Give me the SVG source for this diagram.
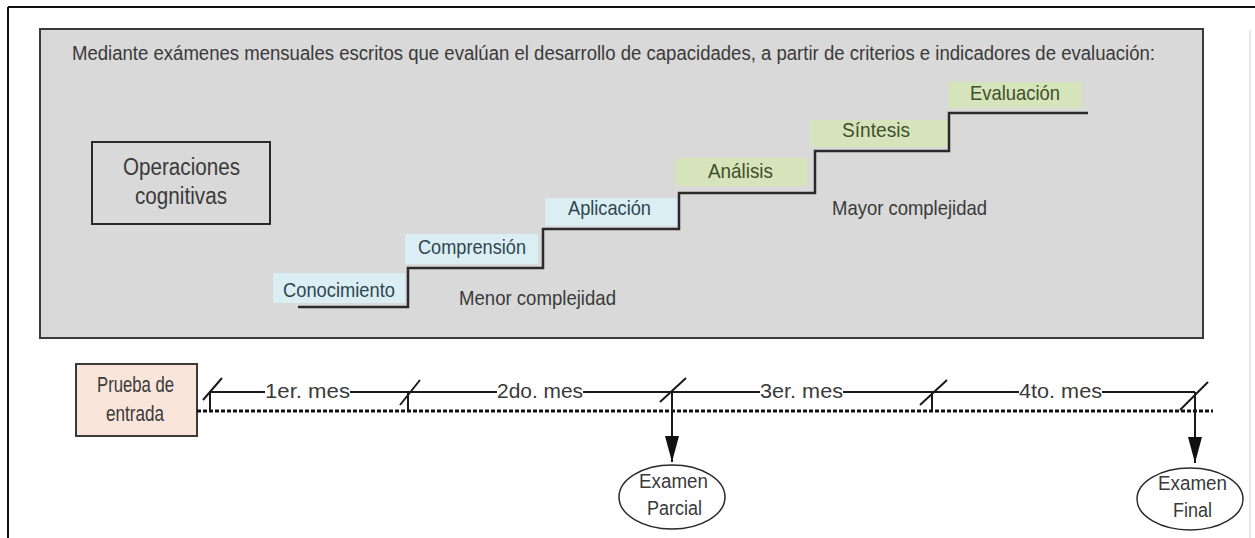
<svg xmlns="http://www.w3.org/2000/svg" width="1255" height="538" viewBox="0 0 1255 538">
<style>
text{font-family:"Liberation Sans",Arial,sans-serif;fill:#3a3a3a}
.t20{font-size:21px}
.t19{font-size:20px}
.t22{font-size:23px}
.tp{font-size:22px}
.cy{fill:#daeef3}
.gr{fill:#d6e4bc}
.cyt{fill:#2e4651}
.grt{fill:#3f4f2a}
.ln{stroke:#1a1a1a;stroke-width:2;fill:none}
</style>
<defs>
<marker id="arrow" viewBox="0 0 26 14" refX="26" refY="7" markerWidth="26" markerHeight="14" markerUnits="userSpaceOnUse" orient="auto">
<path d="M0,0 L26,7 L0,14 z" fill="#111"/>
</marker>
</defs>
<rect x="0" y="0" width="1255" height="538" fill="#fff"/>
<g id="frame">
<line x1="8" y1="7" x2="1255" y2="7" stroke="#111" stroke-width="2"/>
<line x1="8" y1="7" x2="8" y2="538" stroke="#111" stroke-width="2"/>
<line x1="1250" y1="30" x2="1250" y2="538" stroke="#e2e2e2" stroke-width="1.5"/>
</g>
<g id="panel">
<rect x="40" y="29" width="1163" height="309" fill="#d9d9d9" stroke="#3a3a3a" stroke-width="2"/>
<text class="t19" x="72" y="60" textLength="1083" lengthAdjust="spacingAndGlyphs">Mediante exámenes mensuales escritos que evalúan el desarrollo de capacidades, a partir de criterios e indicadores de evaluación:</text>
</g>
<g id="operaciones">
<rect x="92" y="142" width="178" height="82" fill="none" stroke="#2a2a2a" stroke-width="2"/>
<text class="t22" x="123" y="175" textLength="117" lengthAdjust="spacingAndGlyphs">Operaciones</text>
<text class="t22" x="135" y="204" textLength="92" lengthAdjust="spacingAndGlyphs">cognitivas</text>
</g>
<g id="conocimiento">
<rect class="cy" x="273" y="273" width="132" height="30"/>
<text class="t20 cyt" x="283" y="297" textLength="112" lengthAdjust="spacingAndGlyphs">Conocimiento</text>
</g>
<g id="comprension">
<rect class="cy" x="405" y="234" width="133" height="30"/>
<text class="t20 cyt" x="418" y="254" textLength="108" lengthAdjust="spacingAndGlyphs">Comprensión</text>
</g>
<g id="aplicacion">
<rect class="cy" x="545" y="198" width="132" height="28"/>
<text class="t20 cyt" x="568" y="215" textLength="83" lengthAdjust="spacingAndGlyphs">Aplicación</text>
</g>
<g id="analisis">
<rect class="gr" x="675" y="158" width="132" height="28"/>
<text class="t20 grt" x="708" y="178" textLength="65" lengthAdjust="spacingAndGlyphs">Análisis</text>
</g>
<g id="sintesis">
<rect class="gr" x="810" y="120" width="138" height="27"/>
<text class="t20 grt" x="842" y="137" textLength="68" lengthAdjust="spacingAndGlyphs">Síntesis</text>
</g>
<g id="evaluacion">
<rect class="gr" x="948" y="82" width="134" height="26"/>
<text class="t20 grt" x="970" y="100" textLength="90" lengthAdjust="spacingAndGlyphs">Evaluación</text>
</g>
<g id="complejidad">
<text class="t20" x="459" y="305" textLength="157" lengthAdjust="spacingAndGlyphs">Menor complejidad</text>
<text class="t20" x="832" y="215" textLength="155" lengthAdjust="spacingAndGlyphs">Mayor complejidad</text>
</g>
<g id="prueba">
<rect x="76" y="364" width="121" height="72" fill="#f9e5da" stroke="#3a3a3a" stroke-width="2"/>
<text class="tp" x="97" y="392" textLength="77" lengthAdjust="spacingAndGlyphs">Prueba de</text>
<text class="tp" x="106" y="421" textLength="58" lengthAdjust="spacingAndGlyphs">entrada</text>
</g>
<g id="parcial">
<ellipse cx="672" cy="497" rx="53" ry="32" fill="#fff" stroke="#2a2a2a" stroke-width="1.5"/>
<text class="t19" x="639" y="488" textLength="69" lengthAdjust="spacingAndGlyphs">Examen</text>
<text class="t19" x="647" y="515" textLength="55" lengthAdjust="spacingAndGlyphs">Parcial</text>
</g>
<g id="final">
<ellipse cx="1190" cy="499" rx="53" ry="31" fill="#fff" stroke="#2a2a2a" stroke-width="1.5"/>
<text class="t19" x="1158" y="490" textLength="69" lengthAdjust="spacingAndGlyphs">Examen</text>
<text class="t19" x="1173" y="517" textLength="39" lengthAdjust="spacingAndGlyphs">Final</text>
</g>
<g id="connectors">
<path d="M298,307 H408 V268 H543 V229 H679 V193 H815 V151 H949 V113 H1088" stroke="#2a2a2a" stroke-width="2.5" fill="none"/>
<line x1="197" y1="411" x2="1213" y2="411" stroke="#111" stroke-width="3" stroke-dasharray="4 2"/>
<path class="ln" d="M210,392 H265 M350,392 H497 M583,392 H760 M843,392 H1019 M1102,392 H1195"/>
<path class="ln" d="M210,392 V411 M203,400 L222,378 M408,392 V411 M400,405 L420,380 M660,402 L686,378 M932,392 V411 M920,405 L947,380 M1180,410 L1208,382" stroke-width="1.5"/>
<line class="ln" x1="672" y1="392" x2="672" y2="462" marker-end="url(#arrow)"/>
<line class="ln" x1="1195" y1="392" x2="1195" y2="463" marker-end="url(#arrow)"/>
<text class="t20" x="265" y="398" textLength="85" lengthAdjust="spacingAndGlyphs">1er. mes</text>
<text class="t20" x="497" y="398" textLength="86" lengthAdjust="spacingAndGlyphs">2do. mes</text>
<text class="t20" x="760" y="398" textLength="83" lengthAdjust="spacingAndGlyphs">3er. mes</text>
<text class="t20" x="1019" y="398" textLength="83" lengthAdjust="spacingAndGlyphs">4to. mes</text>
</g>
</svg>
